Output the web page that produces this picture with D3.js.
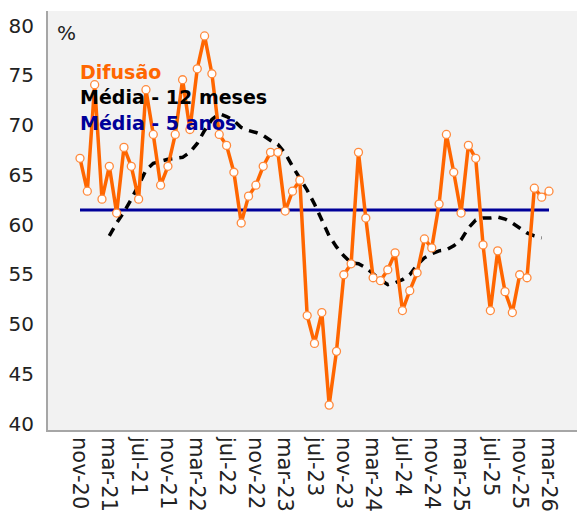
<!DOCTYPE html>
<html>
<head>
<meta charset="utf-8">
<script src="https://cdn.jsdelivr.net/npm/d3@7"></script>
<style>
  html, body { margin: 0; padding: 0; background: #ffffff; }
  svg { display: block; }
</style>
</head>
<body>
<div id="chart"></div>
<script>
// ---- Data ----
const months = [
  "nov-20","dez-20","jan-21","fev-21","mar-21","abr-21","mai-21","jun-21","jul-21","ago-21","set-21","out-21",
  "nov-21","dez-21","jan-22","fev-22","mar-22","abr-22","mai-22","jun-22","jul-22","ago-22","set-22","out-22",
  "nov-22","dez-22","jan-23","fev-23","mar-23","abr-23","mai-23","jun-23","jul-23","ago-23","set-23","out-23",
  "nov-23","dez-23","jan-24","fev-24","mar-24","abr-24","mai-24","jun-24","jul-24","ago-24","set-24","out-24",
  "nov-24","dez-24","jan-25","fev-25","mar-25","abr-25","mai-25","jun-25","jul-25","ago-25","set-25","out-25",
  "nov-25","dez-25","jan-26","fev-26","mar-26"
];

const difusao = [
  66.6, 63.3, 74.0, 62.5, 65.8, 61.1, 67.7, 65.8, 62.5, 73.5, 69.0, 63.9,
  65.8, 69.0, 74.5, 69.5, 75.6, 78.9, 75.1, 69.0, 67.9, 65.2, 60.1, 62.8,
  63.9, 65.8, 67.2, 67.2, 61.3, 63.3, 64.4, 50.8, 48.0, 51.1, 41.8, 47.2,
  54.9, 56.0, 67.2, 60.6, 54.6, 54.3, 55.4, 57.1, 51.3, 53.3, 55.1, 58.5,
  57.6, 62.0, 69.0, 65.2, 61.1, 67.9, 66.6, 57.9, 51.3, 57.3, 53.2, 51.1,
  54.9, 54.6, 63.6, 62.7, 63.3
];

const media12 = [
  null, null, null, null, 58.8, 60.1, 61.2, 62.5, 63.9, 65.4, 66.1, 66.3,
  66.5, 66.6, 66.7, 67.2, 68.1, 69.4, 70.5, 71.1, 70.8, 70.4, 69.7, 69.4,
  69.2, 68.9, 68.4, 68.0, 67.1, 65.8, 64.6, 63.4, 62.0, 60.4, 58.8, 57.7,
  56.8, 56.1, 56.0, 55.6, 55.0, 54.4, 53.9, 54.1, 54.4, 54.9, 55.9, 56.6,
  57.0, 57.3, 57.4, 57.8, 58.4, 59.6, 60.4, 60.6, 60.6, 60.7, 60.5, 60.1,
  59.6, 59.1, 58.8, 58.6, null
];

const media5 = months.map(() => 61.4);

const yTicks = [40, 45, 50, 55, 60, 65, 70, 75, 80];
const xTickLabels = ["nov-20","mar-21","jul-21","nov-21","mar-22","jul-22","nov-22","mar-23",
  "jul-23","nov-23","mar-24","jul-24","nov-24","mar-25","jul-25","nov-25","mar-26"];

const legendItems = ["Difusão", "Média - 12 meses", "Média - 5 anos"];

// ---- Layout ----
const W = 579, H = 514;
const plot = { left: 47, right: 577, top: 11, bottom: 431 };
const FONT = "'DejaVu Sans', Verdana, sans-serif";
const ORANGE = "#ff6600", NAVY = "#000099", GRID = "#a6a6a6";

const svg = d3.select("#chart").append("svg").attr("width", W).attr("height", H);

const x = d3.scalePoint().domain(months).range([80, 549]);
const y = d3.scaleLinear().domain([40, 80]).range([423, 25]);

// plot background
svg.append("rect")
  .attr("x", plot.left).attr("y", plot.top)
  .attr("width", plot.right - plot.left).attr("height", plot.bottom - plot.top)
  .attr("fill", "#f2f2f2");

// axis lines
svg.append("line").attr("x1", plot.left).attr("x2", plot.left)
  .attr("y1", plot.top).attr("y2", plot.bottom + 1)
  .attr("stroke", GRID).attr("stroke-width", 2);
svg.append("line").attr("x1", plot.left).attr("x2", plot.right)
  .attr("y1", plot.bottom).attr("y2", plot.bottom)
  .attr("stroke", GRID).attr("stroke-width", 2);

// y axis labels
const yAxis = d3.axisLeft(y).tickValues(yTicks).tickSize(0).tickPadding(0).tickFormat(d3.format("d"));
const gy = svg.append("g").attr("transform", "translate(34,0)").call(yAxis);
gy.select(".domain").remove();
gy.selectAll("text").attr("font-family", FONT).attr("font-size", 20).attr("fill", "#222")
  .attr("dy", "0.36em");

// x axis labels
const xAxis = d3.axisBottom(x).tickValues(xTickLabels).tickSize(0).tickPadding(0);
const gx = svg.append("g").attr("transform", "translate(0,437)").call(xAxis);
gx.select(".domain").remove();
gx.selectAll("text")
  .attr("font-family", FONT).attr("font-size", 21).attr("fill", "#222")
  .attr("text-anchor", "start")
  .attr("transform", "rotate(90)")
  .attr("x", 0).attr("y", 0).attr("dy", "0.35em");

// 5-year average
const line = d3.line().defined(d => d[1] != null).x(d => x(d[0])).y(d => y(d[1]));
svg.append("path")
  .datum(months.map((m, i) => [m, media5[i]]))
  .attr("d", line).attr("fill", "none").attr("stroke", NAVY).attr("stroke-width", 3);

// 12-month average
svg.append("path")
  .datum(months.map((m, i) => [m, media12[i]]))
  .attr("d", line).attr("fill", "none").attr("stroke", "#000")
  .attr("stroke-width", 3.5).attr("stroke-dasharray", "9,7");

// diffusion
svg.append("path")
  .datum(months.map((m, i) => [m, difusao[i]]))
  .attr("d", line).attr("fill", "none").attr("stroke", ORANGE)
  .attr("stroke-width", 3.5).attr("stroke-linejoin", "round");

svg.append("g").selectAll("circle")
  .data(months.map((m, i) => [m, difusao[i]]))
  .join("circle")
  .attr("cx", d => x(d[0])).attr("cy", d => y(d[1])).attr("r", 4)
  .attr("fill", "#ffffff").attr("stroke", "#ff8a3d").attr("stroke-width", 1.3);

// % label
svg.append("text").attr("x", 57).attr("y", 40)
  .attr("font-family", FONT).attr("font-size", 20).attr("fill", "#222").text("%");

// legend
const legColors = [ORANGE, "#000000", NAVY];
svg.append("g").selectAll("text")
  .data(legendItems)
  .join("text")
  .attr("x", 80).attr("y", (d, i) => 79 + i * 25.3)
  .attr("font-family", FONT).attr("font-size", 19).attr("font-weight", "bold")
  .attr("fill", (d, i) => legColors[i])
  .text(d => d);
</script>
</body>
</html>
